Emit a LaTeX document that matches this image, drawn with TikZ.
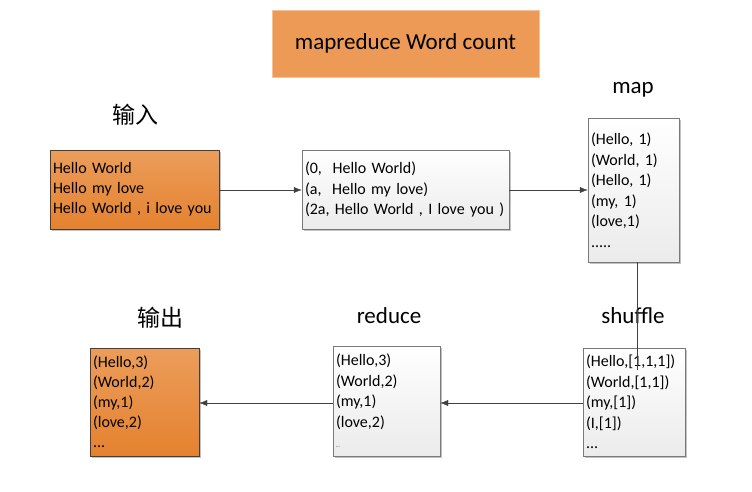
\documentclass[tikz,border=0pt]{standalone}
\usepackage{fontspec}
\setmainfont{Carlito}
\newfontfamily\cjk{Noto Sans CJK SC}
\usetikzlibrary{arrows.meta, positioning, shadows}
\definecolor{otop}{HTML}{EC9D5B}
\definecolor{obot}{HTML}{E4822F}
\definecolor{oflat}{HTML}{EC9A56}
\definecolor{wbot}{HTML}{EBEBEB}
\definecolor{edgegray}{HTML}{404040}
\tikzset{
    obox/.style={rectangle, draw=edgegray, top color=otop, bottom color=obot, align=left, inner xsep=3pt,
        font=\fontsize{16}{20}\selectfont, drop shadow={shadow xshift=2pt, shadow yshift=-2pt, fill=black!40, opacity=0.6}},
    wbox/.style={rectangle, draw=edgegray!70, top color=white, bottom color=wbot, align=left, inner xsep=3pt,
        font=\fontsize{16}{20.5}\selectfont, drop shadow={shadow xshift=2pt, shadow yshift=-2pt, fill=black!40, opacity=0.6}},
    lbl/.style={font=\fontsize{23}{26}\selectfont},
    flow/.style={draw=edgegray, -{Latex[length=8pt, width=6pt]}},
}

\begin{document}
\begin{tikzpicture}[x=1pt, y=-1pt]
    \useasboundingbox (0,0) rectangle (752,491);
    % title
    \node[rectangle, draw=oflat!60, fill=oflat, minimum width=267pt, minimum height=67pt, font=\fontsize{23}{26}\selectfont] (title) at (405.5,43.5) {mapreduce Word count};

    % top row
    \node[lbl, font=\cjk\fontsize{23}{26}\selectfont] (inlabel) at (135,115) {输入};
    \node[obox, minimum width=169pt, minimum height=79pt, text width=163pt] (input) at (134.5,189.5)
        {Hello World\\Hello my love\\Hello World , i love you};
    \node[wbox, minimum width=207pt, minimum height=79pt, text width=201pt] (pairs) at (405.5,189.5)
        {(0,\ \ Hello World)\\(a,\ \ Hello my love)\\(2a, Hello World , I love you )};
    \node[lbl] (maplabel) at (633,90) {map};
    \node[wbox, minimum width=91pt, minimum height=144pt, text width=85pt] (map) at (633.5,190)
        {(Hello, 1)\\(World, 1)\\(Hello, 1)\\(my, 1)\\(love,1)\\.....};

    % bottom row
    \node[lbl] (shufflelabel) at (633,316) {shuffle};
    \node[wbox, minimum width=102pt, minimum height=108pt, text width=96pt] (shuffle) at (634,402)
        {(Hello,[1,1,1])\\(World,[1,1])\\(my,[1])\\(I,[1])\\...};
    \node[lbl] (reducelabel) at (389,316) {reduce};
    \node[wbox, minimum width=107pt, minimum height=110pt, text width=101pt] (reduce) at (386.5,401)
        {(Hello,3)\\(World,2)\\(my,1)\\(love,2)\\{\tiny ...}};
    \node[lbl, font=\cjk\fontsize{23}{26}\selectfont] (outlabel) at (160,318) {输出};
    \node[obox, minimum width=109pt, minimum height=108pt, text width=103pt] (output) at (144.5,402)
        {(Hello,3)\\(World,2)\\(my,1)\\(love,2)\\...};

    % connectors
    \coordinate (shufend) at (637,370);
    \draw[flow] (input.east |- 0,190) -- (pairs.west |- 0,190);
    \draw[flow] (pairs.east |- 0,190) -- (map.west |- 0,190);
    \draw[draw=edgegray] (map.south -| shufend) -- (shufend);
    \draw[flow] (shuffle.west |- 0,403) -- (reduce.east |- 0,403);
    \draw[flow] (reduce.west |- 0,403) -- (output.east |- 0,403);
\end{tikzpicture}
\end{document}
